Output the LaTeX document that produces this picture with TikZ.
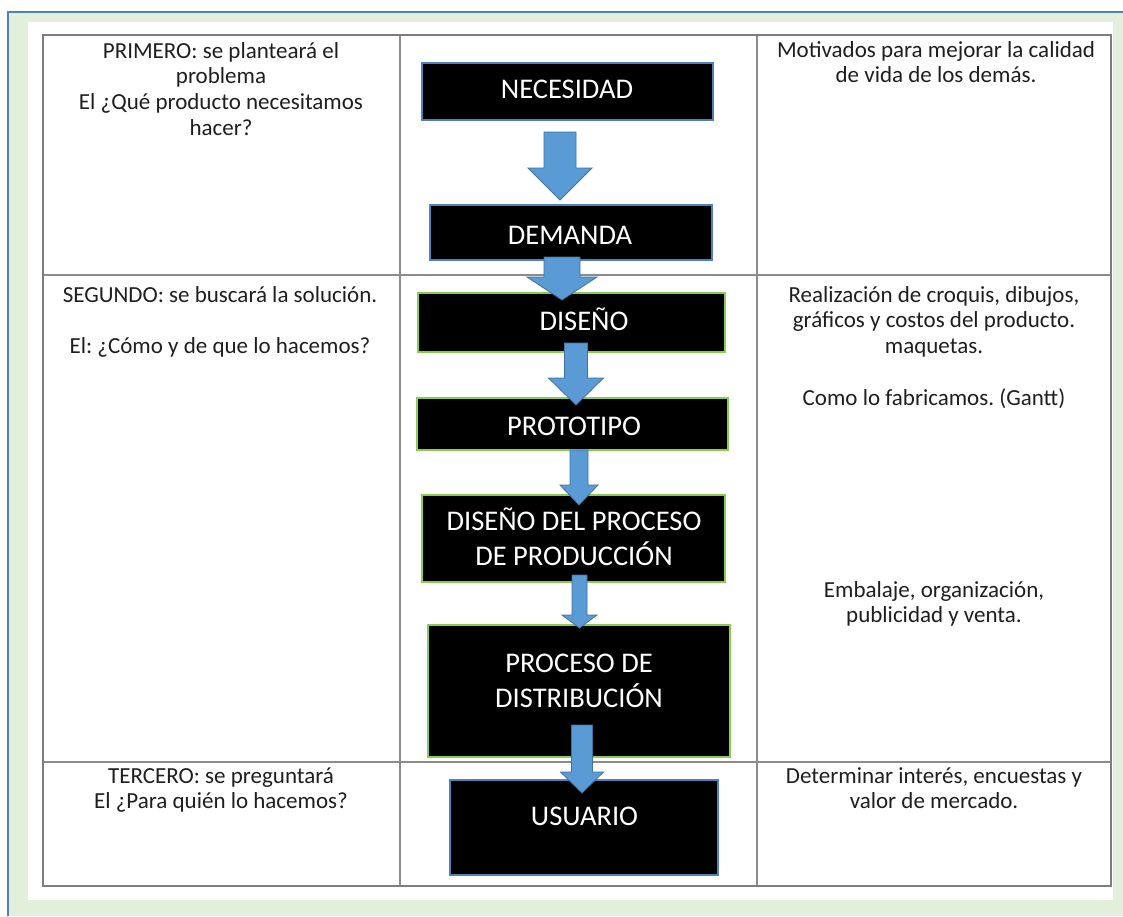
\documentclass[tikz,border=0pt]{standalone}
\usepackage{fontspec}
\setmainfont{Carlito}
\frenchspacing
\definecolor{bggreen}{HTML}{E2EFDA}
\definecolor{frameblue}{HTML}{4F81BD}
\definecolor{gridgray}{HTML}{8C8C8C}
\definecolor{arrowblue}{HTML}{5B9BD5}
\definecolor{arrowedge}{HTML}{41719C}
\definecolor{boxblue}{HTML}{4F81BD}
\definecolor{boxgreen}{HTML}{8CCB4F}
\definecolor{txt}{HTML}{1F1F1F}
\newcommand\cellstrut{\rule{0pt}{20pt}}
\newcommand\boxstrut{\rule{0pt}{24pt}}
\newcommand\blockarrow[6]{%
  \filldraw[barrow] (#1-#4,#2) -- (#1+#4,#2) -- (#1+#4,#6) -- (#1+#5,#6)
    -- (#1,#3) -- (#1-#5,#6) -- (#1-#4,#6) -- cycle;}
\begin{document}
\begin{tikzpicture}[x=1pt,y=-1pt,
  box/.style={draw, fill=black, line width=1.6pt, inner sep=0pt},
  bluebox/.style={box, draw=boxblue},
  greenbox/.style={box, draw=boxgreen},
  boxtext/.style={text=white, font=\fontsize{28.5}{35}\selectfont, align=center, inner sep=0pt, anchor=north},
  celltext/.style={text=txt, font=\fontsize{23}{25.75}\selectfont, align=center, inner sep=0pt, anchor=north},
  barrow/.style={fill=arrowblue, draw=arrowedge, line width=0.8pt, line join=miter},
  gridline/.style={draw=gridgray, line width=1.5pt},
  outerline/.style={draw=gridgray!90!black, line width=2pt}]
\useasboundingbox (0,0) rectangle (1123,916);
% frame
\fill[bggreen] (8,12) rectangle (1123,916);
\fill[white] (28,22) rectangle (1113,900);
\draw[frameblue, line width=2pt] (8,916) -- (8,12) -- (1123,12);
% table
\draw[gridline] (400,35) -- (400,886);
\draw[gridline] (757,35) -- (757,886);
\draw[gridline] (43,275) -- (1111,275);
\draw[gridline] (43,762) -- (1111,762);
\draw[outerline] (43,35) rectangle (1111,886);
% boxes
\node[bluebox, minimum width=291pt, minimum height=57pt] (nec) at (567.5,91.5) {};
\node[bluebox, minimum width=282pt, minimum height=55pt] (dem) at (571,232.5) {};
\node[greenbox, minimum width=307pt, minimum height=59pt] (dis) at (571.5,322.5) {};
\node[greenbox, minimum width=311pt, minimum height=52pt] (pro) at (572.5,424) {};
\node[greenbox, minimum width=303pt, minimum height=87pt] (dpp) at (573.5,538.5) {};
\node[greenbox, minimum width=302pt, minimum height=132pt] (pdd) at (579,691) {};
\node[bluebox, minimum width=268pt, minimum height=95pt] (usu) at (584,827.5) {};
% arrows
\blockarrow{560}{132}{200}{16}{32}{168}
\blockarrow{562}{257}{300}{18}{35}{277}
\blockarrow{576}{343}{405}{11.5}{27.5}{378}
\blockarrow{579}{450}{505}{9}{19}{485}
\blockarrow{579.5}{575}{628}{7.5}{17.5}{615}
\blockarrow{582}{725}{793}{10.5}{21.5}{772}
% box texts
\node[boxtext] (nec-t) at (567,74) {\boxstrut NECESIDAD};
\node[boxtext] (dem-t) at (570,220) {\boxstrut DEMANDA};
\node[boxtext] (dis-t) at (584,306.5) {\boxstrut DISEÑO};
\node[boxtext] (pro-t) at (574,411) {\boxstrut PROTOTIPO};
\node[boxtext] (dpp-t) at (574,506.5) {\boxstrut DISEÑO DEL PROCESO\\DE PRODUCCIÓN};
\node[boxtext] (pdd-t) at (579,648.5) {\boxstrut PROCESO DE\\DISTRIBUCIÓN};
\node[boxtext] (usu-t) at (584.5,801.5) {\boxstrut USUARIO};
% cell texts
\node[celltext] (l1) at (221,38) {\cellstrut PRIMERO: se planteará el\\problema\\El ¿Qué producto necesitamos\\hacer?};
\node[celltext] (r1) at (936,37) {\cellstrut Motivados para mejorar la calidad\\de vida de los demás.};
\node[celltext] (l2) at (220,282) {\cellstrut SEGUNDO: se buscará la solución.\\{}\\El: ¿Cómo y de que lo hacemos?};
\node[celltext] (r2) at (934,282) {\cellstrut Realización de croquis, dibujos,\\gráficos y costos del producto.\\maquetas.\\{}\\Como lo fabricamos. (Gantt)};
\node[celltext] (r2b) at (934,577) {\cellstrut Embalaje, organización,\\publicidad y venta.};
\node[celltext] (l3) at (221,763) {\cellstrut TERCERO: se preguntará\\El ¿Para quién lo hacemos?};
\node[celltext] (r3) at (934,763) {\cellstrut Determinar interés, encuestas y\\valor de mercado.};
\end{tikzpicture}
\end{document}
